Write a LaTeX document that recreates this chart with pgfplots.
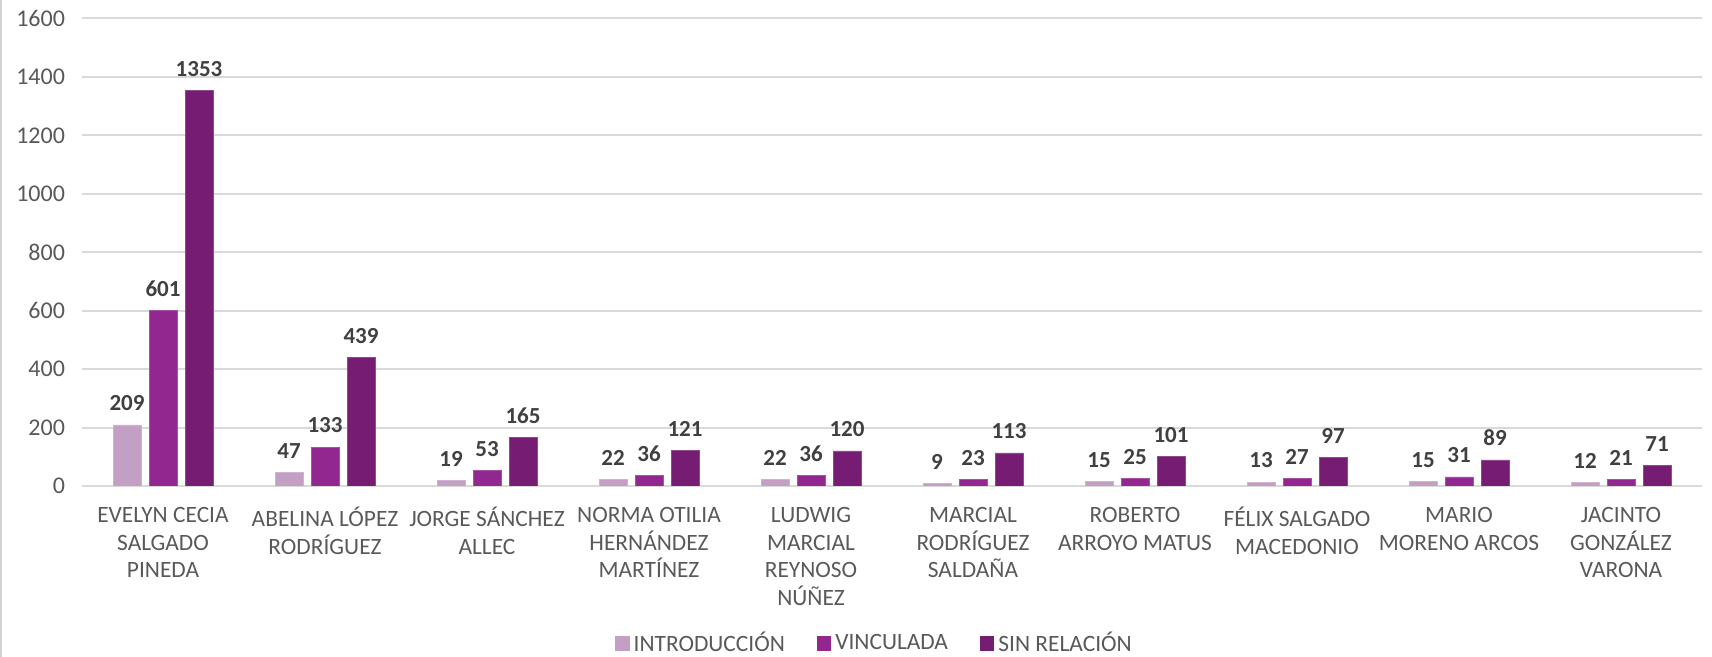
\documentclass[border=0pt]{standalone}
\usepackage{fontspec}
\setmainfont{Carlito}
\usepackage{pgfplots}
\pgfplotsset{compat=1.18}
\definecolor{cIntro}{HTML}{C39FC3}
\definecolor{cVinc}{HTML}{92278F}
\definecolor{cSin}{HTML}{761C73}
\definecolor{tickgray}{HTML}{595959}
\definecolor{labgray}{HTML}{404040}
\definecolor{gridgray}{HTML}{D9D9D9}
\begin{document}
\begin{tikzpicture}
\begin{axis}[
  scale only axis,
  width=810pt, height=233.75pt,
  ybar=4pt, bar width=14pt,
  xmin=-0.5, xmax=9.5,
  ymin=0, ymax=1600,
  ytick={0,200,...,1600},
  xtick={0,...,9},
  xticklabels={
    {EVELYN CECIA\\SALGADO\\PINEDA},
    {ABELINA LÓPEZ\\RODRÍGUEZ},
    {JORGE SÁNCHEZ\\ALLEC},
    {NORMA OTILIA\\HERNÁNDEZ\\MARTÍNEZ},
    {LUDWIG\\MARCIAL\\REYNOSO\\NÚÑEZ},
    {MARCIAL\\RODRÍGUEZ\\SALDAÑA},
    {ROBERTO\\ARROYO MATUS},
    {FÉLIX SALGADO\\MACEDONIO},
    {MARIO\\MORENO ARCOS},
    {JACINTO\\GONZÁLEZ\\VARONA}},
  xticklabel style={align=center, font=\fontsize{11.7}{13.9}\selectfont, text=tickgray, yshift=-7pt},
  yticklabel style={font=\fontsize{12}{14}\selectfont, text=tickgray, xshift=-5pt},
  /pgf/number format/assume math mode=true,
  /pgf/number format/1000 sep={},
  major tick length=0pt,
  axis line style={draw=none},
  ymajorgrids,
  grid style={gridgray, line width=1pt},
  nodes near coords,
  every node near coord/.append style={font=\fontsize{11.5}{13}\selectfont\bfseries, text=labgray, yshift=3.5pt},
  legend style={at={(0.4898,-0.337)}, anchor=center, draw=none, legend columns=-1,
    font=\fontsize{11.7}{13}\selectfont, text=tickgray, inner sep=0pt,
    /tikz/every even column/.append style={column sep=14pt}},
  legend image code/.code={\draw[#1, draw=none] (0pt,-3.6pt) rectangle (7.2pt,3.6pt);},
]
\addplot[fill=cIntro, draw=cIntro!80!white] coordinates {(0,209) (1,47) (2,19) (3,22) (4,22) (5,9) (6,15) (7,13) (8,15) (9,12)};
\addplot[fill=cVinc, draw=cVinc!80!white] coordinates {(0,601) (1,133) (2,53) (3,36) (4,36) (5,23) (6,25) (7,27) (8,31) (9,21)};
\addplot[fill=cSin, draw=cSin!80!white] coordinates {(0,1353) (1,439) (2,165) (3,121) (4,120) (5,113) (6,101) (7,97) (8,89) (9,71)};
\legend{INTRODUCCIÓN, VINCULADA, SIN RELACIÓN}
\coordinate (bl) at (rel axis cs:0,0);
\end{axis}
\pgfresetboundingbox
\useasboundingbox ([xshift=-41pt, yshift=-85.5pt]bl) rectangle ([xshift=815pt, yshift=243pt]bl);
\draw[gray!35, line width=1pt] ([xshift=-40.5pt, yshift=-85.5pt]bl) -- ([xshift=-40.5pt, yshift=243pt]bl);
\end{tikzpicture}
\end{document}
